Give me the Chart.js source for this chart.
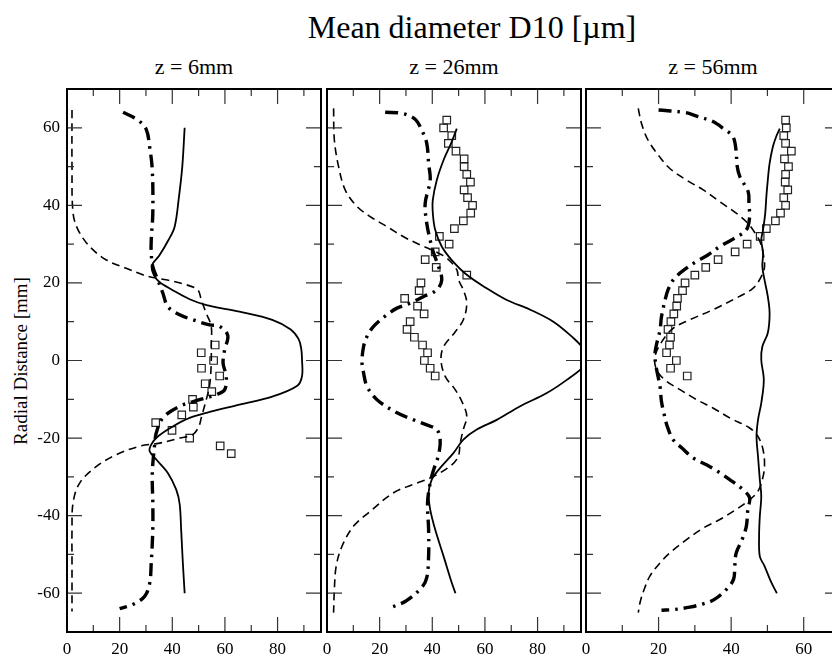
<!DOCTYPE html>
<html>
<head>
<meta charset="utf-8">
<script src="https://cdn.jsdelivr.net/npm/chart.js@4.4.1/dist/chart.umd.min.js"></script>
<style>
  body { margin: 0; background: #fff; overflow: hidden; }
  #page { position: relative; width: 832px; height: 656px; overflow: hidden; font-family: "Liberation Serif", "Times New Roman", serif; color: #000; }
  canvas { position: absolute; top: 79px; }
  .txt { position: absolute; white-space: nowrap; line-height: 1; transform: translateX(-50%); }
  #ylab { position: absolute; left: 20px; top: 361px; font-size: 19px; line-height: 1; white-space: nowrap; transform: translate(-50%, -50%) rotate(-90deg); }
</style>
</head>
<body>
<div id="page">
  <div class="txt" style="left:472px;top:11px;font-size:32px">Mean diameter D10 [µm]</div>
  <div class="txt" style="left:194px;top:56px;font-size:22px">z = 6mm</div>
  <div class="txt" style="left:454px;top:56px;font-size:22px">z = 26mm</div>
  <div class="txt" style="left:713px;top:56px;font-size:22px">z = 56mm</div>
  <div id="ylab">Radial Distance [mm]</div>
  <canvas id="p1" width="331" height="577" style="left:0px"></canvas>
  <canvas id="p2" width="284" height="577" style="left:307px"></canvas>
  <canvas id="p3" width="284" height="577" style="left:566px"></canvas>
</div>
<script>
// tick labels
const yTicks = [-60, -40, -20, 0, 20, 40, 60];
const xTicksWide = [0, 20, 40, 60, 80];
const xTicksNarrow = [0, 20, 40, 60];

// z = 6mm
const p1SolidR = [60, 50, 42, 34.5, 31, 27, 24.5, 22, 20.3, 18.2, 15.8, 14.3, 12.6, 10.5, 8, 5.5, 3, 0, -4, -6.5, -9.3, -11.4, -13.5, -14.8, -17, -19.6, -21.7, -23.4, -25.6, -29, -33.3, -37, -44, -52, -60];
const p1SolidD = [44.7, 43.8, 42.5, 40.9, 38.5, 35, 32.2, 33, 35, 40, 46.6, 53, 65.5, 78, 85, 88, 89, 89.3, 89.3, 87.5, 78, 65.5, 53, 46.6, 40.2, 34.5, 32, 31.4, 34, 38.3, 41.5, 42.8, 43.4, 44, 44.7];
const p1DashR = [64.6, 50, 38, 33.7, 29.4, 25.9, 23.8, 22.1, 21.4, 20.8, 19.8, 18.2, 15.6, 12.2, 8.8, 4, -0.7, -6.3, -10.1, -14.8, -17, -19.1, -20, -21.3, -22.1, -24.3, -27.3, -31.6, -36.7, -43.6, -52, -64.7];
const p1DashD = [1.9, 1.9, 2.3, 4.2, 8.6, 15, 22.5, 28.8, 32.6, 37.7, 44, 49.7, 51, 52.9, 54.8, 54.8, 54.8, 54.2, 52.9, 51, 50.1, 47.8, 42.8, 35.2, 27.6, 18.7, 11.2, 4.8, 2.3, 1.9, 1.9, 1.9];
const p1DotR = [64, 62, 59.6, 55.1, 49.1, 38, 31, 27.7, 24.2, 20.8, 17.4, 13.9, 11.8, 10.5, 9.2, 8.8, 6.4, 2.8, -0.7, -4.1, -7.5, -8.8, -10.1, -11.8, -14.8, -18.7, -21.7, -29, -36.7, -43.6, -52.2, -57.5, -60.8, -62.9, -64];
const p1DotD = [21.3, 26.9, 30.1, 31.4, 32.4, 32.6, 32, 32, 32.6, 34.5, 36.4, 38.3, 42.8, 47.8, 54.2, 58, 61.1, 59.9, 59.3, 60.5, 59.9, 56.7, 50.4, 42.8, 36.4, 33.9, 33.3, 32.4, 32.6, 32.6, 32, 31.4, 29.5, 25, 20];
const p1ExpR = [4, 2, 0, -2, -4, -6, -8, -10, -12, -14, -16, -18, -20, -22, -24];
const p1ExpD = [56.3, 51, 55.7, 51.1, 58, 52.5, 55, 47.7, 48, 43.6, 33.7, 39.9, 46.6, 58.2, 62.4];

// z = 26mm
const p2SolidR = [59.8, 56.4, 51.7, 46.5, 41.4, 38, 33.7, 29.4, 25.9, 22.1, 18.6, 15.6, 13.1, 10, 5.8, 3, 1, -1.5, -5, -8.4, -11.8, -15.3, -17.8, -20.4, -23.8, -27.7, -30.7, -34.1, -38.4, -43.6, -50.5, -57.3, -60];
const p2SolidD = [49.3, 47.4, 44.3, 41.7, 40.2, 40.2, 41.1, 43.6, 47.4, 53.1, 60.7, 68.3, 77.2, 86, 93.6, 97.5, 98.5, 97.5, 91.1, 83.5, 73.4, 64.5, 56.9, 51.8, 48.1, 43, 39.8, 38.6, 39.2, 41.1, 44.3, 47.4, 48.8];
const p2DashR = [65, 56.8, 50, 44, 39.7, 37.1, 34.5, 31.9, 29.8, 28.1, 26.4, 23.4, 20.8, 18.2, 14.8, 10.5, 7.1, 3.6, 0.2, -4.1, -7.5, -11.4, -14.4, -17.8, -21.3, -24.7, -26.9, -29.9, -31.6, -34.1, -38.9, -42.7, -47.9, -53, -59, -65];
const p2DashD = [2.5, 2.8, 4.4, 6.9, 11.4, 16.4, 22.8, 29.1, 35.4, 41.1, 45.5, 49.3, 50, 51.8, 53.1, 51.8, 48.4, 44.3, 43.3, 44.9, 48.7, 51.8, 53.1, 51.8, 50.6, 49.9, 47.4, 40.5, 34.2, 25.3, 16.4, 10.1, 5.7, 3.5, 2.8, 2.5];
const p2DotR = [64, 63.7, 62.2, 59.4, 56, 50.8, 46.5, 40.5, 35.4, 31, 27.7, 24.2, 20.8, 18.2, 16.5, 14.8, 13.5, 11.8, 8.8, 6.2, 3.6, -0.3, -3.2, -6.7, -10.1, -13.5, -15.3, -16.6, -17.8, -20.4, -24.3, -28.2, -31.6, -36.7, -43.6, -50.5, -56, -58.5, -62, -64];
const p2DotD = [22.1, 28.5, 33.5, 36, 37.9, 38.6, 39.2, 37.3, 37.9, 39.2, 40.5, 42.4, 43.6, 41.7, 36.7, 31.6, 26.6, 22.8, 17.7, 15.2, 13.9, 13.3, 13.9, 15.2, 19, 26.6, 32.9, 37.9, 41.7, 43, 42.4, 40.5, 39.2, 38.2, 38.6, 38.6, 37.9, 36, 30, 23];

// z = 56mm
const p3SolidR = [59.8, 57.7, 55.1, 50.8, 46.5, 42.2, 38, 33.7, 31, 27.7, 24.2, 20.8, 16.5, 12.2, 7.1, 3.6, 0.2, -5, -11, -15.3, -19.6, -24.7, -30.7, -35, -40.2, -45.3, -50.5, -53, -57.3, -60];
const p3SolidD = [53.4, 52.4, 51.5, 50.6, 50.1, 49.7, 49.4, 48.8, 48.3, 48.8, 48.6, 49.2, 50.1, 50.6, 50.1, 48.6, 48.3, 49, 48.3, 47.4, 47, 47.4, 47.9, 48.3, 47.9, 47.7, 47.9, 49.2, 51.1, 52.6];
const p3DashR = [65, 61.1, 56.8, 52.5, 49.5, 46.5, 44, 40.9, 38, 35.5, 33, 30.5, 27.7, 24.2, 21.6, 18.6, 16.1, 13.1, 10.5, 8.3, 5, 1, -2.5, -5.2, -7.5, -10.1, -12.3, -14.8, -17.4, -19.6, -23, -27.3, -30.7, -33.7, -35.9, -38.4, -41, -43.2, -46.2, -49.6, -52.2, -55.6, -58.6, -62, -65];
const p3DashD = [14.4, 15.3, 17.1, 20.3, 23.1, 27.7, 32.3, 36.9, 41.4, 44.5, 46.5, 48, 48.8, 49.2, 48.3, 46, 41.4, 35, 28.6, 24, 21, 19, 19.5, 22, 25.9, 30.5, 35.1, 39.6, 45.1, 47.4, 48.8, 49.2, 48.6, 47.4, 45.1, 41.4, 36.9, 32.3, 27.7, 23.1, 20.4, 17.6, 16.2, 15, 14.4];
const p3DotR = [64.6, 63.9, 63, 61.6, 59.7, 57.7, 53.8, 50.4, 47.4, 43.5, 40.1, 37.1, 33.7, 31.3, 29.4, 27.2, 25.5, 23.8, 21.2, 18.2, 15.2, 11.3, 7.9, 4, 1.5, -2, -6.7, -10.6, -13.7, -17, -20.4, -22.7, -25.1, -26.9, -28.6, -30.7, -33.1, -35.4, -38.4, -42.7, -46, -49.6, -53, -56.3, -58.6, -61.6, -62.8, -63.6, -64.2, -64.4];
const p3DotD = [20, 27.5, 30.5, 35, 38, 40.5, 41.4, 41.6, 42.4, 44.7, 44.9, 45.1, 44.2, 40.5, 36.9, 33.6, 30.4, 27.7, 24.4, 22.6, 21.7, 20.8, 20.4, 19.4, 19, 19.4, 20.4, 20.8, 21.5, 22.4, 24, 26.6, 29.5, 33.2, 36.3, 39.6, 43, 45.1, 44.6, 44.2, 43.1, 41.4, 41, 40.7, 39.1, 35.4, 32.1, 28.6, 24.4, 20.8];

// measured squares, z = 26mm and z = 56mm share radial positions
const expR = [62, 60, 58, 56, 54, 52, 50, 48, 46, 44, 42, 40, 38, 36, 34, 32, 30, 28, 26, 24, 22, 20, 18, 16, 14, 12, 10, 8, 6, 4, 2, 0, -2, -4];
const p2ExpD = [45.5, 44.3, 47.4, 46.1, 49, 52.1, 52.1, 53.1, 54.5, 52.1, 53.4, 55.3, 54.6, 51.8, 48.4, 42.7, 46.4, 41.1, 37.3, 41.5, 53.1, 35.7, 35, 29.5, 34.4, 36.9, 31.6, 30.4, 33.2, 36.3, 38.2, 37, 39.2, 41.1];
const p3ExpD = [55, 55.2, 54.5, 55, 56.6, 54.7, 55.8, 55, 54.9, 55.6, 54.5, 55, 53.6, 52.2, 49.7, 48, 44.4, 41.1, 36.4, 33, 30, 27.3, 26.6, 25.2, 25, 24.2, 23.4, 22.6, 23.3, 23, 22.2, 24.9, 23.3, 27.9];

const font = "'Liberation Serif', 'Times New Roman', serif";

function pts(d, r) {
  return d.map((v, i) => ({ x: v, y: r[i] }));
}

function lines(solid, dash, dot, exp) {
  return [
    { data: solid, showLine: true, borderColor: '#000', borderWidth: 1.8, pointRadius: 0, tension: 0.35 },
    { data: dash, showLine: true, borderColor: '#000', borderWidth: 1.6, borderDash: [8, 5], pointRadius: 0, tension: 0.35 },
    { data: dot, showLine: true, borderColor: '#000', borderWidth: 3.4, borderDash: [13, 6, 2.5, 6], pointRadius: 0, tension: 0.35 },
    { data: exp, showLine: false, pointStyle: 'rect', pointRadius: 5.3, borderColor: '#222', borderWidth: 1.2, backgroundColor: 'rgba(0,0,0,0)' }
  ];
}

// frame and inward ticks on all four sides
const frameTicks = {
  id: 'frameTicks',
  afterDatasetsDraw(chart) {
    const { ctx, chartArea: a, scales: { x, y } } = chart;
    ctx.save();
    ctx.strokeStyle = '#333';
    ctx.lineWidth = 1.2;
    ctx.beginPath();
    for (let v = 10; v < x.max; v += 10) {
      const px = x.getPixelForValue(v);
      const len = v % 20 === 0 ? 15 : 7;
      ctx.moveTo(px, a.bottom); ctx.lineTo(px, a.bottom - len);
      ctx.moveTo(px, a.top); ctx.lineTo(px, a.top + len);
    }
    for (let v = -60; v <= 60; v += 10) {
      const py = y.getPixelForValue(v);
      const len = v % 20 === 0 ? 15 : 7;
      ctx.moveTo(a.left, py); ctx.lineTo(a.left + len, py);
      ctx.moveTo(a.right, py); ctx.lineTo(a.right - len, py);
    }
    ctx.stroke();
    ctx.strokeStyle = '#000';
    ctx.lineWidth = 2;
    ctx.strokeRect(a.left, a.top, a.right - a.left, a.bottom - a.top);
    ctx.restore();
  }
};

function panel(id, xMax, xTicks, yWidth, datasets) {
  new Chart(document.getElementById(id), {
    type: 'scatter',
    data: { datasets },
    options: {
      responsive: false,
      animation: false,
      layout: { padding: { left: 0, top: 10, right: 10, bottom: 0 } },
      plugins: { legend: { display: false }, tooltip: { enabled: false } },
      scales: {
        x: {
          type: 'linear', min: 0, max: xMax,
          grid: { display: false, drawTicks: false },
          border: { display: false },
          afterBuildTicks: s => { s.ticks = xTicks.map(v => ({ value: v })); },
          afterFit: s => { s.height = 24; s.paddingLeft = 0; s.paddingRight = 0; },
          ticks: { color: '#000', padding: 7, maxRotation: 0, font: { family: font, size: 17 } }
        },
        y: {
          type: 'linear', min: -70, max: 70,
          grid: { display: false, drawTicks: false },
          border: { display: false },
          afterBuildTicks: s => { s.ticks = yTicks.map(v => ({ value: v })); },
          afterFit: s => { s.width = yWidth; s.paddingTop = 0; s.paddingBottom = 0; },
          ticks: { display: yWidth > 30, color: '#000', padding: 7, font: { family: font, size: 17 } }
        }
      }
    },
    plugins: [frameTicks]
  });
}

panel('p1', 96.5, xTicksWide, 67, lines(pts(p1SolidD, p1SolidR), pts(p1DashD, p1DashR), pts(p1DotD, p1DotR), pts(p1ExpD, p1ExpR)));
panel('p2', 96.5, xTicksWide, 20, lines(pts(p2SolidD, p2SolidR), pts(p2DashD, p2DashR), pts(p2DotD, p2DotR), pts(p2ExpD, expR)));
panel('p3', 70, xTicksNarrow, 20, lines(pts(p3SolidD, p3SolidR), pts(p3DashD, p3DashR), pts(p3DotD, p3DotR), pts(p3ExpD, expR)));
</script>
</body>
</html>
